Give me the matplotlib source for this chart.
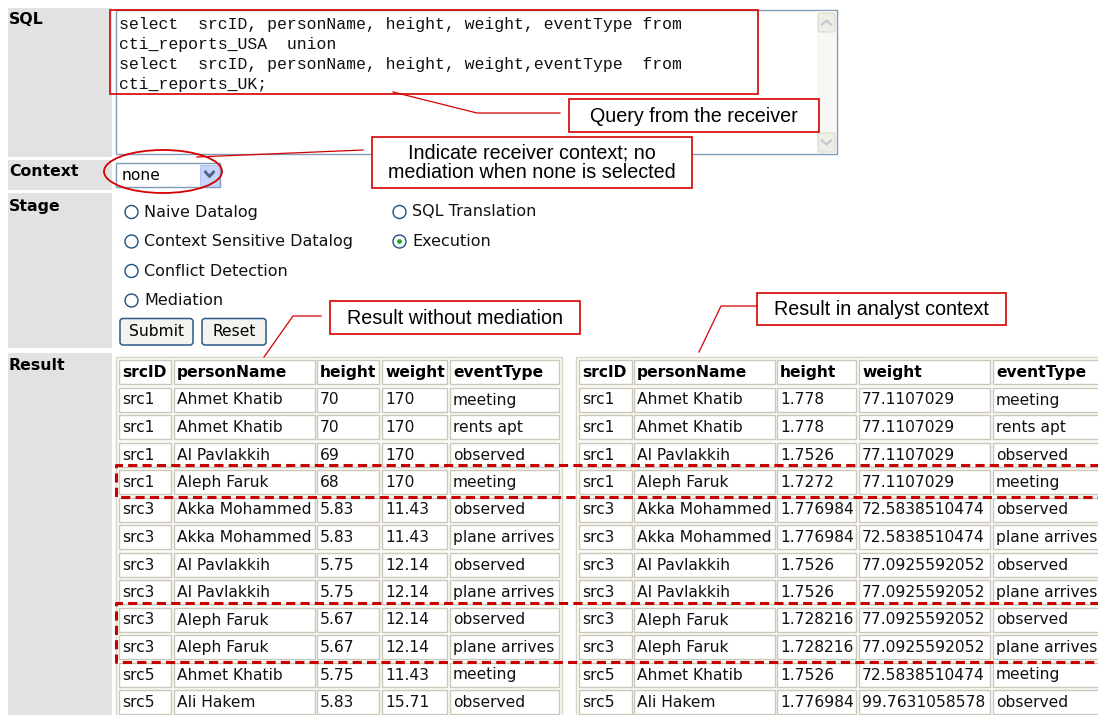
import matplotlib as mpl
mpl.use('Agg')
import matplotlib.pyplot as plt
from matplotlib.patches import Rectangle, Ellipse, Circle, FancyBboxPatch

### form content
sql_lines = [
    "select  srcID, personName, height, weight, eventType from",
    "cti_reports_USA  union",
    "select  srcID, personName, height, weight,eventType  from",
    "cti_reports_UK;",
]
form_labels = ['SQL', 'Context', 'Stage', 'Result']
context_value = 'none'
stage_col1 = ['Naive Datalog', 'Context Sensitive Datalog', 'Conflict Detection', 'Mediation']
stage_col2 = ['SQL Translation', 'Execution']
selected_stage = 'Execution'
button_labels = ['Submit', 'Reset']

### result tables
columns = ['srcID', 'personName', 'height', 'weight', 'eventType']
src_ids = ['src1', 'src1', 'src1', 'src1', 'src3', 'src3', 'src3', 'src3', 'src3', 'src3', 'src5', 'src5']
person_names = ['Ahmet Khatib', 'Ahmet Khatib', 'Al Pavlakkih', 'Aleph Faruk', 'Akka Mohammed',
                'Akka Mohammed', 'Al Pavlakkih', 'Al Pavlakkih', 'Aleph Faruk', 'Aleph Faruk',
                'Ahmet Khatib', 'Ali Hakem']
event_types = ['meeting', 'rents apt', 'observed', 'meeting', 'observed', 'plane arrives',
               'observed', 'plane arrives', 'observed', 'plane arrives', 'meeting', 'observed']
height_raw = ['70', '70', '69', '68', '5.83', '5.83', '5.75', '5.75', '5.67', '5.67', '5.75', '5.83']
weight_raw = ['170', '170', '170', '170', '11.43', '11.43', '12.14', '12.14', '12.14', '12.14',
              '11.43', '15.71']
height_analyst = ['1.778', '1.778', '1.7526', '1.7272', '1.776984', '1.776984', '1.7526', '1.7526',
                  '1.728216', '1.728216', '1.7526', '1.776984']
weight_analyst = ['77.1107029', '77.1107029', '77.1107029', '77.1107029', '72.5838510474',
                  '72.5838510474', '77.0925592052', '77.0925592052', '77.0925592052',
                  '77.0925592052', '72.5838510474', '99.7631058578']
highlight_rows = [[3], [8, 9]]   # rows boxed with dashed red lines

### callout texts
callout_query = 'Query from the receiver'
callout_context = 'Indicate receiver context; no\nmediation when none is selected'
callout_raw = 'Result without mediation'
callout_analyst = 'Result in analyst context'


RED = '#d40000'
UI_FONT = 'DejaVu Sans'
CELL_FS = 11.2

fig = plt.figure(figsize=(10.98, 7.15), dpi=100)
ax = fig.add_axes([0, 0, 1, 1])
ax.set_xlim(0, 1098)
ax.set_ylim(715, 0)
ax.axis('off')


def rect(x0, y0, x1, y1, **kw):
    r = Rectangle((x0, y0), x1 - x0, y1 - y0, **kw)
    ax.add_patch(r)
    return r


### gray label column
label_rows = [(8, 157, 20), (160, 190, 172), (193, 348, 206), (353, 716, 366)]
for name, (y0, y1, ty) in zip(form_labels, label_rows):
    rect(8, y0, 112, y1, facecolor='#e2e2e2', edgecolor='none')
    ax.text(9, ty, name, fontsize=11.3, fontweight='bold', family=UI_FONT, va='center', ha='left')

### SQL textarea
rect(116, 10, 837, 154, facecolor='white', edgecolor='#7f9db9', lw=1)
rect(817, 11, 836, 153, facecolor='#f7f7f3', edgecolor='none')
for by0, by1, up in [(13, 32, True), (133, 152, False)]:
    ax.add_patch(FancyBboxPatch((818, by0), 17, by1 - by0, boxstyle='round,pad=0,rounding_size=2',
                                facecolor='#eeeee6', edgecolor='#dddcd2', lw=0.8))
    cy = (by0 + by1) / 2
    d = -2 if up else 2
    ax.plot([822, 826.5, 831], [cy - d, cy + d, cy - d], color='#c2c8d4', lw=1.6)
for i, line in enumerate(sql_lines):
    ax.text(119, 25 + 20 * i, line, fontsize=11.9, family='Liberation Mono', va='center', ha='left',
            color='#111111')
rect(110, 10, 758, 94, facecolor='none', edgecolor=RED, lw=1.2, zorder=5)

### context dropdown
rect(116, 163, 220, 187, facecolor='white', edgecolor='#7f9db9', lw=1)
rect(200, 164.5, 219, 185.5, facecolor='#c6d5f9', edgecolor='#b3c6ef', lw=0.8)
ax.plot([205.5, 209.5, 213.5], [172, 176.5, 172], color='#4d6185', lw=2)
ax.text(122, 176, context_value, fontsize=11.2, family=UI_FONT, va='center', ha='left')
ax.add_patch(Ellipse((163, 171.5), 118, 43, fill=False, edgecolor=RED, lw=1.3, zorder=6))

### stage radio buttons
def radio(x, y, label):
    ax.add_patch(Circle((x, y), 6.5, facecolor='white', edgecolor='#1c5180', lw=1))
    if label == selected_stage:
        ax.add_patch(Circle((x, y), 2.4, facecolor='#23a623', edgecolor='none'))
    ax.text(x + 13, y, label, fontsize=11.5, family=UI_FONT, va='center', ha='left', color='#111111')


stage_y = [212, 241.5, 271, 300.5]
for label, y in zip(stage_col1, stage_y):
    radio(131.5, y, label)
for label, y in zip(stage_col2, stage_y):
    radio(399.5, y, label)

### submit / reset buttons
for label, (bx0, bx1) in zip(button_labels, [(120, 193), (202, 266)]):
    ax.add_patch(FancyBboxPatch((bx0, 318.5), bx1 - bx0, 26.5, boxstyle='round,pad=0,rounding_size=3',
                                facecolor='#f3f3ef', edgecolor='#2a5a8a', lw=1.1))
    ax.text((bx0 + bx1) / 2, 332, label, fontsize=11.2, family=UI_FONT, va='center', ha='center')


### result tables
def draw_table(x0, x1, col_edges, cols):
    rect(x0, 357, x1, 720, facecolor='#fbfbf6', edgecolor='#d8d4c4', lw=1)
    row_tops = [360 + 27.5 * i for i in range(len(cols[0]) + 1)]
    for r, top in enumerate(row_tops):
        for c, (cx0, cx1) in enumerate(col_edges):
            rect(cx0, top, cx1, top + 24, facecolor='white', edgecolor='#cbc7bb', lw=1)
            if r == 0:
                ax.text(cx0 + 3, top + 12.5, columns[c], fontsize=CELL_FS, fontweight='bold',
                        family=UI_FONT, va='center', ha='left')
            else:
                ax.text(cx0 + 3, top + 12.5, cols[c][r - 1], fontsize=CELL_FS, family=UI_FONT,
                        va='center', ha='left', color='#111111')


left_edges = [(119, 171), (174, 315), (317, 379), (382, 447), (450, 559)]
right_edges = [(579, 632), (634, 775), (777, 856), (859, 990), (993, 1110)]
draw_table(116, 562, left_edges, [src_ids, person_names, height_raw, weight_raw, event_types])
draw_table(576, 1110, right_edges, [src_ids, person_names, height_analyst, weight_analyst, event_types])

### dashed highlight boxes
for rows in highlight_rows:
    top = 360 + 27.5 * rows[0] + 27.5 - 5
    bot = 360 + 27.5 * rows[-1] + 27.5 + 27
    ax.plot([1100, 116, 116, 1100], [top, top, bot, bot], color='#c80000', lw=2.2,
            dashes=(3, 1.7), zorder=7, solid_capstyle='butt', dash_capstyle='butt')


### callouts
def callout(x0, y0, x1, y1, text, line_pts):
    rect(x0, y0, x1, y1, facecolor='white', edgecolor=RED, lw=1.2, zorder=8)
    ax.text((x0 + x1) / 2, (y0 + y1) / 2 + 0.5, text, fontsize=14.2, family='Liberation Sans',
            va='center', ha='center', linespacing=1.05, zorder=9)
    xs, ys = zip(*line_pts)
    ax.plot(xs, ys, color=RED, lw=0.9, zorder=8)


callout(569, 99, 819, 132, callout_query, [(393, 92), (477, 113), (560, 113)])
callout(372, 137, 692, 188, callout_context, [(197, 157), (363, 150)])
callout(330, 301, 580, 334, callout_raw, [(264, 357), (293, 316), (321, 316)])
callout(757, 293, 1006, 325, callout_analyst, [(699, 352), (721, 306), (757, 306)])

fig.savefig('out.png', dpi=100)
